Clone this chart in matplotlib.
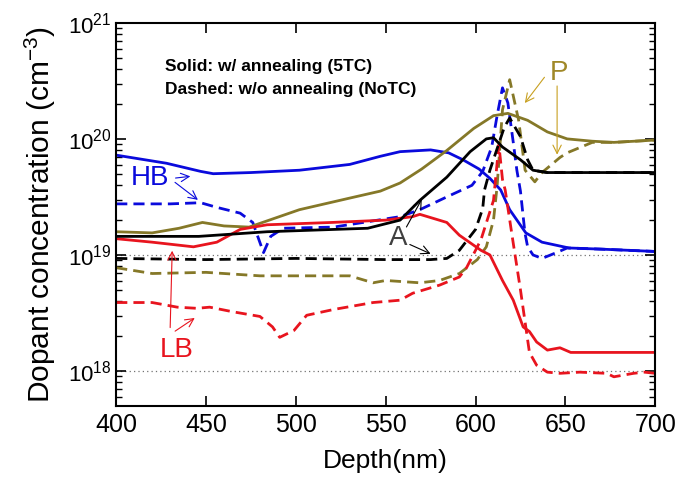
import matplotlib
matplotlib.use("Agg")
import matplotlib.pyplot as plt
import numpy as np

plt.rcParams['font.family'] = ['Liberation Sans', 'DejaVu Sans']
plt.rcParams['mathtext.fontset'] = 'custom'
plt.rcParams['mathtext.rm'] = 'Liberation Sans'
plt.rcParams['mathtext.it'] = 'Liberation Sans:italic'
plt.rcParams['mathtext.bf'] = 'Liberation Sans:bold'

# depth in nm, concentration as log10(cm^-3)
hb_ann_x = [400, 428, 447, 454, 475, 502, 530, 547, 558, 575, 585, 593, 602, 608, 614, 619, 628, 637, 652, 670, 700]
hb_ann_y = [19.86, 19.79, 19.72, 19.70, 19.71, 19.73, 19.78, 19.85, 19.89, 19.905, 19.88, 19.82, 19.74, 19.66, 19.56, 19.39, 19.19, 19.11, 19.06, 19.05, 19.03]

hb_no_x = [400, 430, 447, 456, 469, 476, 482, 486, 493, 521, 558, 569, 584, 598, 604, 609, 612, 615, 618, 621, 623, 625, 627.5, 629, 632, 637, 645, 651, 670, 700]
hb_no_y = [19.44, 19.44, 19.45, 19.41, 19.36, 19.28, 19.02, 19.16, 19.23, 19.24, 19.33, 19.39, 19.50, 19.60, 19.72, 19.93, 20.2, 20.44, 20.31, 19.97, 19.73, 19.55, 19.19, 19.07, 19.00, 18.97, 19.02, 19.06, 19.05, 19.03]

a_ann_x = [400, 446, 484, 540, 558, 569, 584, 597, 606, 610, 615, 625, 632, 640, 700]
a_ann_y = [19.16, 19.16, 19.20, 19.23, 19.30, 19.47, 19.67, 19.89, 20.0, 20.01, 19.93, 19.82, 19.73, 19.71, 19.71]

a_no_x = [400, 450, 500, 550, 575, 584, 591, 600, 604, 605, 608, 616, 619, 625, 629, 632, 640, 700]
a_no_y = [18.97, 18.96, 18.97, 18.96, 18.96, 18.97, 19.04, 19.22, 19.40, 19.56, 19.73, 20.10, 20.18, 20.02, 19.82, 19.73, 19.71, 19.71]

p_ann_x = [400, 420, 435, 448, 460, 474, 502, 530, 547, 558, 570, 584, 599, 610, 618, 629, 640, 651, 665, 677, 700]
p_ann_y = [19.20, 19.19, 19.23, 19.28, 19.25, 19.24, 19.39, 19.49, 19.55, 19.62, 19.74, 19.90, 20.09, 20.20, 20.22, 20.16, 20.06, 20.0, 19.98, 19.97, 19.99]

p_no_x = [400, 420, 450, 480, 530, 543, 550, 569, 580, 591, 601, 606, 610, 612, 615, 619, 624, 627.6, 633, 637, 647, 651, 665, 677, 700]
p_no_y = [18.89, 18.84, 18.85, 18.82, 18.82, 18.76, 18.78, 18.76, 18.78, 18.84, 18.96, 19.07, 19.30, 19.59, 20.25, 20.51, 20.16, 19.73, 19.63, 19.71, 19.84, 19.88, 19.97, 19.97, 19.99]

lb_ann_x = [400, 420, 443, 456, 469, 484, 520, 550, 565, 569, 584, 591, 603, 608, 615, 621, 626.5, 630, 634, 640, 647, 653, 677, 700]
lb_ann_y = [19.14, 19.11, 19.07, 19.11, 19.22, 19.26, 19.28, 19.30, 19.33, 19.35, 19.28, 19.17, 19.04, 19.00, 18.78, 18.61, 18.38, 18.34, 18.25, 18.18, 18.20, 18.16, 18.16, 18.16]

lb_no_x = [400, 420, 434, 445, 452, 465, 480, 487, 491, 499, 506, 521, 543, 558, 565, 580, 591, 595, 603, 610, 613, 615, 616.5, 621, 625, 630, 634, 640, 647, 658, 673, 677, 688, 694, 700]
lb_no_y = [18.59, 18.59, 18.55, 18.54, 18.55, 18.51, 18.47, 18.38, 18.29, 18.35, 18.48, 18.53, 18.59, 18.61, 18.67, 18.74, 18.81, 18.89, 19.13, 19.47, 19.95, 19.65, 19.56, 19.10, 18.70, 18.16, 18.05, 17.99, 17.98, 17.99, 17.98, 17.95, 17.98, 17.99, 17.98]

blue = '#0a0adc'
red = '#e8141e'
olive = '#857828'
black = '#000000'
dash = (0, (4, 2.2))

fig = plt.figure(figsize=(7, 4.86), dpi=100)
ax = fig.add_axes([0.166, 0.165, 0.770, 0.788])

series = [
    (hb_ann_x, hb_ann_y, blue, '-'), (hb_no_x, hb_no_y, blue, dash),
    (p_ann_x, p_ann_y, olive, '-'), (p_no_x, p_no_y, olive, dash),
    (lb_ann_x, lb_ann_y, red, '-'), (lb_no_x, lb_no_y, red, dash),
    (a_ann_x, a_ann_y, black, '-'), (a_no_x, a_no_y, black, dash),
]
for xs, ys, c, ls in series:
    ax.plot(xs, 10 ** np.array(ys), color=c, ls=ls, lw=2.0)

for yv in [1e19, 1e18]:
    ax.axhline(yv, color='0.45', ls=(0, (1, 2.5)), lw=0.9, zorder=0)

ax.set_yscale('log')
ax.set_xlim(400, 700)
ax.set_ylim(10 ** 17.7, 1e21)
ax.set_xticks([400, 450, 500, 550, 600, 650, 700])
ax.tick_params(which='both', direction='in', top=True, right=True)
ax.tick_params(axis='x', labelsize=18, pad=5)
ax.tick_params(axis='y', labelsize=16)
ax.tick_params(which='major', length=7, width=1.2)
ax.tick_params(which='minor', length=4, width=1.0)
ax.tick_params(axis='x', which='minor', top=False, bottom=False)
for s in ax.spines.values():
    s.set_linewidth(1.5)

ax.set_xlabel('Depth(nm)', fontsize=19, labelpad=9)
ax.set_ylabel('Dopant concentration (cm$^{-3}$)', fontsize=21.5, labelpad=7)

ax.text(0.091, 0.885, 'Solid: w/ annealing (5TC)', transform=ax.transAxes,
        fontsize=12.5, fontweight='bold', va='center')
ax.text(0.091, 0.825, 'Dashed: w/o annealing (NoTC)', transform=ax.transAxes,
        fontsize=12.5, fontweight='bold', va='center')


def label(txt, pos, color, targets, acolor):
    ax.text(pos[0], 10 ** pos[1], txt, color=color, fontsize=20, ha='center', va='center')
    for (sx, sy), (tx, ty) in targets:
        ax.annotate('', xy=(tx, 10 ** ty), xytext=(sx, 10 ** sy),
                    arrowprops=dict(arrowstyle='->', color=acolor, lw=0.8,
                                    mutation_scale=15))


label('HB', (419, 19.66), blue,
      [((431.5, 19.66), (442.8, 19.68)), ((431.5, 19.64), (446.7, 19.46))], blue)
label('LB', (433.5, 18.18), red,
      [((430.0, 18.35), (431.2, 19.06)), ((431.5, 18.33), (445.0, 18.47))], red)
label('A', (557, 19.15), '#404040',
      [((560.8, 19.22), (570.8, 19.50)), ((562.0, 19.10), (576.4, 19.00))], black)
label('P', (646.5, 20.57), '#a08828',
      [((639.3, 20.55), (626.5, 20.29)), ((645.4, 20.48), (645.4, 19.84))], '#c8a020')

fig.savefig('out.png', dpi=100)
